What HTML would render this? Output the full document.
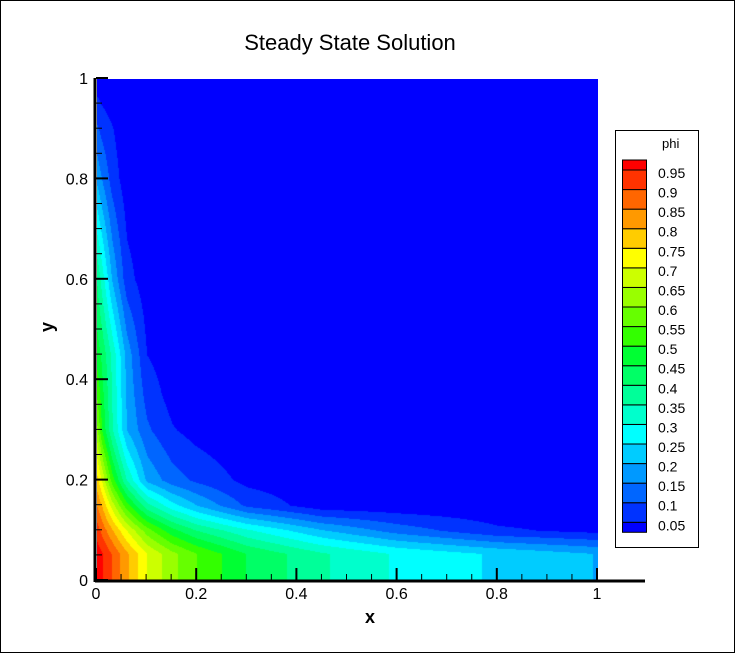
<!DOCTYPE html>
<html><head><meta charset="utf-8">
<style>
body{margin:0;background:#fff;}
#wrap{position:relative;width:733px;height:651px;border:1px solid #000;overflow:hidden;background:#fff;font-family:"Liberation Sans",Arial,sans-serif;}
svg text{font-family:"Liberation Sans",Arial,sans-serif;}
</style></head>
<body>
<div id="wrap">
<canvas id="field" width="501" height="502" style="position:absolute;left:96px;top:78px;"></canvas>
<svg id="ov" width="735" height="653" style="position:absolute;left:-1px;top:-1px;">
  <text x="350" y="50" font-size="22" text-anchor="middle">Steady State Solution</text>
  <g id="axes"></g>
  <text x="370" y="623" font-size="18" font-weight="bold" text-anchor="middle">x</text>
  <text x="0" y="0" font-size="18" font-weight="bold" text-anchor="middle" transform="translate(53,327) rotate(-90)">y</text>
  <g id="legend">
    <rect x="615.5" y="130.5" width="83" height="417" fill="#fff" stroke="#000"></rect>
    <text x="662" y="148" font-size="13">phi</text>
  </g>
</svg>
</div>
<script>
// contour levels / band colors
const levels=[0.05,0.1,0.15,0.2,0.25,0.3,0.35,0.4,0.45,0.5,0.55,0.6,0.65,0.7,0.75,0.8,0.85,0.9,0.95];
const bandColors=["#0000ff","#0033ff","#0066ff","#0099ff","#00ccff","#00ffff","#00ffcc","#00ff99","#00ff66","#00ff33","#33ff00","#66ff00","#99ff00","#ccff00","#ffff00","#ffcc00","#ff9900","#ff6600","#ff3300","#ff0000"];
// field grid (phi)
const gridX=[0,0.01,0.03,0.06,0.1,0.15,0.2,0.3,0.45,0.6,0.8,1.0];
const gridY=[0,0.054,0.1,0.15,0.2,0.25,0.3,0.37,0.45,0.6,0.8,0.9,1.0];
const phiRow0=[0.98,0.955,0.897,0.809,0.70,0.615,0.55,0.448,0.356,0.293,0.242,0.198];
const phiRow1=[0.98,0.955,0.897,0.809,0.70,0.615,0.55,0.448,0.356,0.293,0.242,0.198];
const phiRow2=[0.93,0.885,0.81,0.70,0.575,0.47,0.40,0.31,0.205,0.13,0.06,0.035];
const phiRow3=[0.85,0.80,0.68,0.52,0.37,0.27,0.20,0.09,0.02,0.015,0.01,0.01];
const phiRow4=[0.77,0.70,0.53,0.35,0.19,0.125,0.09,0.035,0.015,0.01,0.01,0.01];
const phiRow5=[0.70,0.60,0.44,0.27,0.15,0.09,0.06,0.02,0.01,0.01,0.01,0.01];
const phiRow6=[0.62,0.50,0.36,0.20,0.11,0.055,0.03,0.01,0.01,0.01,0.01,0.01];
const phiRow7=[0.55,0.47,0.35,0.19,0.08,0.03,0.01,0.01,0.01,0.01,0.01,0.01];
const phiRow8=[0.48,0.44,0.34,0.18,0.05,0.02,0.01,0.01,0.01,0.01,0.01,0.01];
const phiRow9=[0.40,0.33,0.20,0.07,0.02,0.01,0.01,0.01,0.01,0.01,0.01,0.01];
const phiRow10=[0.19,0.15,0.08,0.02,0.01,0.01,0.01,0.01,0.01,0.01,0.01,0.01];
const phiRow11=[0.11,0.085,0.055,0.01,0.01,0.01,0.01,0.01,0.01,0.01,0.01,0.01];
const phiRow12=[0.02,0.01,0.0,0.0,0.0,0.0,0.0,0.0,0.0,0.0,0.0,0.0];
const phiRows=[phiRow0,phiRow1,phiRow2,phiRow3,phiRow4,phiRow5,phiRow6,phiRow7,phiRow8,phiRow9,phiRow10,phiRow11,phiRow12];
const xTicks=[0,0.2,0.4,0.6,0.8,1];
const xTickLabels=["0","0.2","0.4","0.6","0.8","1"];
const yTicks=[0,0.2,0.4,0.6,0.8,1];
const yTickLabels=["0","0.2","0.4","0.6","0.8","1"];
const legendLabels=["0.95","0.9","0.85","0.8","0.75","0.7","0.65","0.6","0.55","0.5","0.45","0.4","0.35","0.3","0.25","0.2","0.15","0.1","0.05"];

const X0=96,X1=597,Y0=580,Y1=78;
function sx(v){return X0+v*(X1-X0);}
function sy(v){return Y0-v*(Y0-Y1);}
function hex(c){return [parseInt(c.substr(1,2),16),parseInt(c.substr(3,2),16),parseInt(c.substr(5,2),16)];}
function seg(arr,v){for(let i=0;i<arr.length-2;i++){if(v<arr[i+1])return i;}return arr.length-2;}
function phiAt(x,y){
  const i=seg(gridX,x),j=seg(gridY,y);
  const tx=(x-gridX[i])/(gridX[i+1]-gridX[i]),ty=(y-gridY[j])/(gridY[j+1]-gridY[j]);
  const a=phiRows[j][i],b=phiRows[j][i+1],c=phiRows[j+1][i],d=phiRows[j+1][i+1];
  return (a*(1-tx)+b*tx)*(1-ty)+(c*(1-tx)+d*tx)*ty;
}
function bandOf(p){let k=0;for(const l of levels){if(p>=l)k++;}return k;}
// draw field
const cv=document.getElementById('field'),ctx=cv.getContext('2d');
const W=cv.width,H=cv.height,img=ctx.createImageData(W,H);
const rgb=bandColors.map(hex);
for(let py=0;py<H;py++){
  const y=1-(py+0.5)/H;
  for(let px=0;px<W;px++){
    const x=(px+0.5)/W;
    const c=rgb[bandOf(phiAt(x,y))];
    const o=(py*W+px)*4;img.data[o]=c[0];img.data[o+1]=c[1];img.data[o+2]=c[2];img.data[o+3]=255;
  }
}
ctx.putImageData(img,0,0);

const NS='http://www.w3.org/2000/svg';
function mk(tag,attrs,parent){const e=document.createElementNS(NS,tag);for(const k in attrs)e.setAttribute(k,attrs[k]);parent.appendChild(e);return e;}
const ax=document.getElementById('axes');
let l=mk('line',{x1:X0-1,y1:Y0+1,x2:645,y2:Y0+1,stroke:'#000','stroke-width':3},ax);


l=mk('line',{x1:X0-1,y1:Y1,x2:X0-1,y2:Y0+2,stroke:'#000','stroke-width':3},ax);


for(let k=0;k<=20;k++){
  const v=k*0.05;
  let t=mk('line',{x1:sx(v),y1:Y0,x2:sx(v),y2:Y0-6,stroke:'#000','stroke-width':1},ax);
  
  
  t=mk('line',{x1:X0,y1:sy(v),x2:X0+6,y2:sy(v),stroke:'#000','stroke-width':1},ax);
  
  
}
xTicks.forEach((v,i)=>{
  const t=mk('line',{x1:sx(v),y1:Y0,x2:sx(v),y2:Y0-12,stroke:'#000','stroke-width':2},ax);
  
  
  const tx=mk('text',{x:sx(v),y:599,'font-size':16,'text-anchor':'middle'},ax);
  tx.textContent=xTickLabels[i];
  
  
});
yTicks.forEach((v,i)=>{
  const t=mk('line',{x1:X0,y1:sy(v),x2:X0+12,y2:sy(v),stroke:'#000','stroke-width':2},ax);
  
  
  const tx=mk('text',{x:88,y:sy(v)+6,'font-size':16,'text-anchor':'end'},ax);
  tx.textContent=yTickLabels[i];
  
  
});
const lg=document.getElementById('legend');
const LT=160,LB=532.3,step=(522.3-170)/18;
function ly(v){return 170+(0.95-v)/0.05*step;}
for(let k=0;k<bandColors.length;k++){
  const lo=k*0.05,hi=(k+1)*0.05;
  const yTop=k===bandColors.length-1?LT:ly(hi);
  const yBot=k===0?LB:ly(lo);
  const r=mk('rect',{x:622.5,y:yTop,width:24,height:yBot-yTop,fill:bandColors[k],stroke:'#000','stroke-width':1},lg);
  
  
}
legendLabels.forEach((s,i)=>{
  const t=mk('text',{x:658,y:ly(parseFloat(s))+8,'font-size':14},lg);
  t.textContent=s;
  
  
});
</script>
</body></html>
